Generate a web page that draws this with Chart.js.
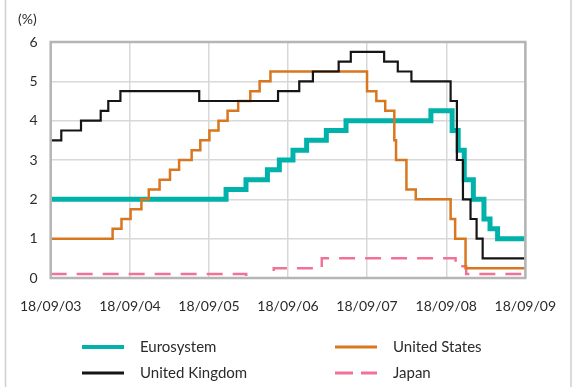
<!DOCTYPE html>
<html><head><meta charset="utf-8">
<script src="https://cdn.jsdelivr.net/npm/chart.js@4/dist/chart.umd.min.js"></script>
<style>
html,body{margin:0;padding:0;background:#fff;}
#wrap{position:relative;width:576px;height:387px;overflow:hidden;}
canvas{display:block;}
</style></head>
<body><div id="wrap"><canvas id="c" width="576" height="387"></canvas></div>
<script>
// ---- tick labels (x axis dates) ----
const tickDates = ['2003-09-18','2004-09-18','2005-09-18','2006-09-18','2007-09-18','2008-09-18','2009-09-18'];
const tickLabels = ['18/09/03','18/09/04','18/09/05','18/09/06','18/09/07','18/09/08','18/09/09'];
const yMin = 0, yMax = 6, yStep = 1;

// ---- series: change dates and policy rates (%) ----
const euroDates = ['2003-09-18','2005-12-06','2006-03-08','2006-06-15','2006-08-09','2006-10-11','2006-12-13','2007-03-14','2007-06-13','2008-07-09','2008-10-15','2008-11-12','2008-12-10','2009-01-21','2009-03-11','2009-04-08','2009-05-13','2009-09-18'];
const euroRates = [2.00,2.25,2.50,2.75,3.00,3.25,3.50,3.75,4.00,4.25,3.75,3.25,2.50,2.00,1.50,1.25,1.00,1.00];

const usDates = ['2003-09-18','2004-06-30','2004-08-10','2004-09-21','2004-11-10','2004-12-14','2005-02-02','2005-03-22','2005-05-03','2005-06-30','2005-08-09','2005-09-20','2005-11-01','2005-12-13','2006-01-31','2006-03-28','2006-05-10','2006-06-29','2007-09-18','2007-10-31','2007-12-11','2008-01-22','2008-01-30','2008-03-18','2008-04-30','2008-10-08','2008-10-29','2008-12-16','2009-09-18'];
const usRates = [1.00,1.25,1.50,1.75,2.00,2.25,2.50,2.75,3.00,3.25,3.50,3.75,4.00,4.25,4.50,4.75,5.00,5.25,4.75,4.50,4.25,3.50,3.00,2.25,2.00,1.50,1.00,0.25,0.25];

const ukDates = ['2003-09-18','2003-11-06','2004-02-05','2004-05-06','2004-06-10','2004-08-05','2005-08-04','2006-08-03','2006-11-09','2007-01-11','2007-05-10','2007-07-05','2007-12-06','2008-02-07','2008-04-10','2008-10-08','2008-11-06','2008-12-04','2009-01-08','2009-02-05','2009-03-05','2009-09-18'];
const ukRates = [3.50,3.75,4.00,4.25,4.50,4.75,4.50,4.75,5.00,5.25,5.50,5.75,5.50,5.25,5.00,4.50,3.00,2.00,1.50,1.00,0.50,0.50];

const jpDates = ['2003-09-18','2006-03-09','2006-07-14','2007-02-21','2008-10-31','2008-12-19','2009-09-18'];
const jpRates = [0.10,0.00,0.25,0.50,0.30,0.10,0.10];

const DAY = 86400000;
const t0 = Date.parse(tickDates[0]);
const toX = d => (Date.parse(d) - t0) / DAY;
const pts = (dates, rates) => dates.map((d, i) => ({x: toX(d), y: rates[i]}));

const FONT = 'Lato, "Open Sans", sans-serif';
const TEXT = '#2b2b2b';

const legendItems = [
  {label:'Eurosystem', color:'#00b2aa', width:4, dash:[], x:82, y:347},
  {label:'United States', color:'#d8771f', width:3, dash:[], x:335, y:347},
  {label:'United Kingdom', color:'#151515', width:3, dash:[], x:82, y:373},
  {label:'Japan', color:'#f07297', width:3, dash:[18,8], x:335, y:373}
];

const decor = {
  id:'decor',
  beforeDraw(chart){
    const ctx = chart.ctx;
    ctx.save();
    ctx.strokeStyle = '#cfcfcf'; ctx.lineWidth = 1.5;
    ctx.beginPath(); ctx.moveTo(5.5,0); ctx.lineTo(5.5,387); ctx.moveTo(571,0); ctx.lineTo(571,387); ctx.stroke();
    ctx.restore();
  },
  afterDatasetsDraw(chart){
    const {ctx, chartArea:a} = chart;
    ctx.save();
    ctx.strokeStyle = '#b5b5b5'; ctx.lineWidth = 2.5;
    ctx.strokeRect(a.left, a.top, a.right - a.left, a.bottom - a.top);
    ctx.restore();
  },
  afterDraw(chart){
    const ctx = chart.ctx;
    ctx.save();
    ctx.fillStyle = TEXT;
    ctx.font = '14px ' + FONT;
    ctx.textBaseline = 'middle';
    ctx.textAlign = 'left';
    ctx.fillText('(%)', 18, 19);
    ctx.font = '15px ' + FONT;
    legendItems.forEach(it => {
      ctx.strokeStyle = it.color; ctx.lineWidth = it.width; ctx.setLineDash(it.dash);
      ctx.beginPath(); ctx.moveTo(it.x, it.y); ctx.lineTo(it.x + 42, it.y); ctx.stroke();
      ctx.setLineDash([]);
      ctx.fillText(it.label, it.x + 58, it.y);
    });
    ctx.restore();
  }
};

const ds = (label, data, color, width, order, dash, clip) => ({
  label, data, borderColor: color, backgroundColor: color, borderWidth: width,
  borderDash: dash || [], stepped: 'before', pointRadius: 0, fill: false,
  borderJoinStyle: 'miter', borderCapStyle: 'butt', order, tension: 0,
  clip: clip === undefined ? width / 2 : clip
});

new Chart(document.getElementById('c'), {
  type: 'line',
  data: {
    datasets: [
      ds('United Kingdom', pts(ukDates, ukRates), '#151515', 2.2, 0),
      ds('United States', pts(usDates, usRates), '#d8771f', 2.5, 1),
      ds('Eurosystem', pts(euroDates, euroRates), '#00b2aa', 5, 2),
      ds('Japan', pts(jpDates, jpRates), '#f07297', 2.5, 3, [16,10], {left: 2, top: 2, right: 2, bottom: -2})
    ]
  },
  options: {
    responsive: false, animation: false, devicePixelRatio: 1,
    layout: {padding: {left: 0, top: 42, right: 49, bottom: 0}},
    plugins: {legend: {display: false}, tooltip: {enabled: false}, title: {display: false}},
    scales: {
      x: {
        type: 'linear', min: 0, max: toX(tickDates[tickDates.length - 1]),
        afterBuildTicks: s => { s.ticks = tickDates.map(d => ({value: toX(d)})); },
        afterFit: s => { s.height = 387 - 278; },
        ticks: {callback: (v, i) => tickLabels[i], font: {family: FONT, size: 14}, color: TEXT, padding: 20, maxRotation: 0, autoSkip: false},
        grid: {color: '#d8d8d8', lineWidth: 1.5, drawTicks: false},
        border: {display: false}
      },
      y: {
        min: yMin, max: yMax,
        afterFit: s => { s.width = 49; },
        ticks: {stepSize: yStep, font: {family: FONT, size: 14}, color: TEXT, padding: 13},
        grid: {color: '#d8d8d8', lineWidth: 1.5, drawTicks: false},
        border: {display: false}
      }
    }
  },
  plugins: [decor]
});
</script>
</body></html>
